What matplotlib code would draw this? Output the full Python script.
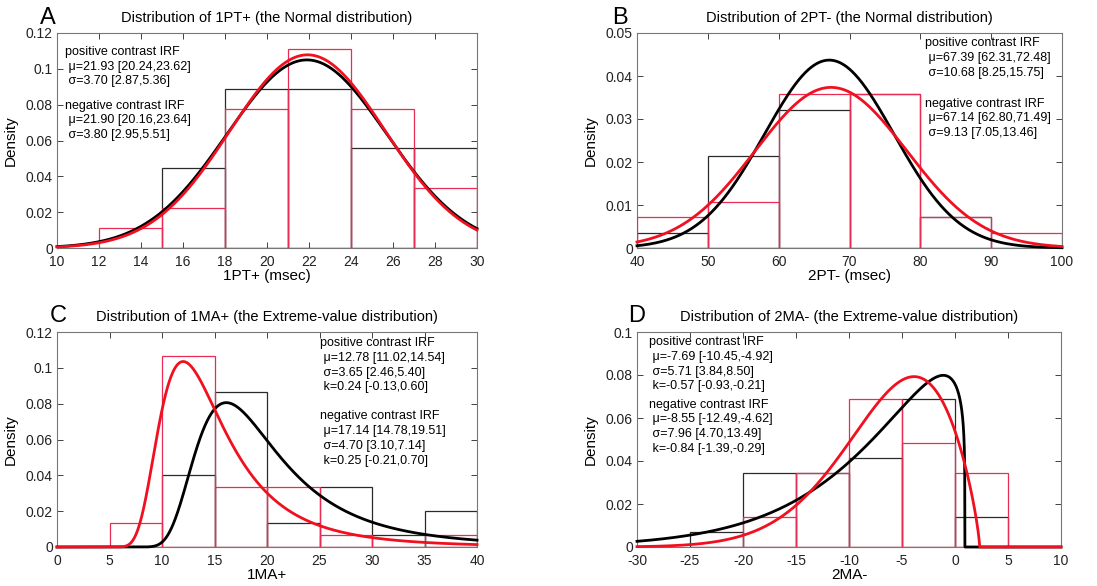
import numpy as np
import matplotlib
matplotlib.use("Agg")
import matplotlib.pyplot as plt

plt.rcParams['font.family'] = ['Liberation Sans', 'DejaVu Sans']

# ---------------- data ----------------
# Panel A: 1PT+ (Normal)
a_edges = [12, 15, 18, 21, 24, 27, 30]
a_neg_hist = [0.0, 0.0444, 0.0889, 0.0889, 0.0556, 0.0556]   # black
a_pos_hist = [0.0111, 0.0222, 0.0778, 0.1111, 0.0778, 0.0333]  # red
a_pos_params = (21.93, 3.70)
a_neg_params = (21.90, 3.80)

# Panel B: 2PT- (Normal)
b_edges = [40, 50, 60, 70, 80, 90, 100]
b_neg_hist = [0.0036, 0.0214, 0.0321, 0.0357, 0.0071, 0.0]
b_pos_hist = [0.0071, 0.0107, 0.0357, 0.0357, 0.0071, 0.0036]
b_pos_params = (67.39, 10.68)
b_neg_params = (67.14, 9.13)

# Panel C: 1MA+ (GEV: mu, sigma, k)
c_edges = [5, 10, 15, 20, 25, 30, 35, 40]
c_neg_hist = [0.0, 0.0400, 0.0867, 0.0133, 0.0333, 0.0067, 0.0200]
c_pos_hist = [0.0133, 0.1067, 0.0333, 0.0333, 0.0067, 0.0, 0.0067]
c_pos_params = (12.78, 3.65, 0.24)
c_neg_params = (17.14, 4.70, 0.25)

# Panel D: 2MA- (GEV: mu, sigma, k)
d_edges = [-25, -20, -15, -10, -5, 0, 5]
d_neg_hist = [0.0069, 0.0345, 0.0345, 0.0414, 0.0690, 0.0138]
d_pos_hist = [0.0, 0.0138, 0.0345, 0.0690, 0.0483, 0.0345]
d_pos_params = (-7.69, 5.71, -0.57)
d_neg_params = (-8.55, 7.96, -0.84)

titles = ["Distribution of 1PT+ (the Normal distribution)",
          "Distribution of 2PT- (the Normal distribution)",
          "Distribution of 1MA+ (the Extreme-value distribution)",
          "Distribution of 2MA- (the Extreme-value distribution)"]
xlabels = ["1PT+ (msec)", "2PT- (msec)", "1MA+", "2MA-"]
letters = ["A", "B", "C", "D"]

a_text = ("positive contrast IRF\n \u03bc=21.93 [20.24,23.62]\n \u03c3=3.70 [2.87,5.36]",
          "negative contrast IRF\n \u03bc=21.90 [20.16,23.64]\n \u03c3=3.80 [2.95,5.51]")
b_text = ("positive contrast IRF\n \u03bc=67.39 [62.31,72.48]\n \u03c3=10.68 [8.25,15.75]",
          "negative contrast IRF\n \u03bc=67.14 [62.80,71.49]\n \u03c3=9.13 [7.05,13.46]")
c_text = ("positive contrast IRF\n \u03bc=12.78 [11.02,14.54]\n \u03c3=3.65 [2.46,5.40]\n k=0.24 [-0.13,0.60]",
          "negative contrast IRF\n \u03bc=17.14 [14.78,19.51]\n \u03c3=4.70 [3.10,7.14]\n k=0.25 [-0.21,0.70]")
d_text = ("positive contrast IRF\n \u03bc=-7.69 [-10.45,-4.92]\n \u03c3=5.71 [3.84,8.50]\n k=-0.57 [-0.93,-0.21]",
          "negative contrast IRF\n \u03bc=-8.55 [-12.49,-4.62]\n \u03c3=7.96 [4.70,13.49]\n k=-0.84 [-1.39,-0.29]")


def normpdf(x, mu, s):
    return np.exp(-0.5 * ((x - mu) / s) ** 2) / (s * np.sqrt(2 * np.pi))


def gevpdf(x, mu, s, k):
    z = (x - mu) / s
    y = 1 + k * z
    out = np.zeros_like(x)
    ok = y > 0
    t = y[ok] ** (-1.0 / k)
    out[ok] = (1.0 / s) * np.exp(-t) * y[ok] ** (-1 - 1.0 / k)
    return out


RED_BAR = '#ea2c55'
RED_LINE = '#f01020'
BLACK_BAR = '#2a2a2a'

W, H = 1097, 586
fig = plt.figure(figsize=(W / 100, H / 100), dpi=100)
fig.patch.set_facecolor('white')


def px_axes(l, t, r, b):
    return fig.add_axes([l / W, 1 - b / H, (r - l) / W, (b - t) / H])


boxes = [(57, 33, 477, 248), (637, 33, 1062, 248),
         (57, 332, 477, 547), (637, 332, 1061, 547)]

panels = [
    dict(edges=a_edges, neg=a_neg_hist, pos=a_pos_hist, kind='norm',
         pp=a_pos_params, np_=a_neg_params, xlim=(10, 30), ylim=(0, 0.12),
         xt=np.arange(10, 31, 2), yt=[0, 0.02, 0.04, 0.06, 0.08, 0.1, 0.12],
         text=a_text, tpos=[(0.02, 0.94), (0.02, 0.69)]),
    dict(edges=b_edges, neg=b_neg_hist, pos=b_pos_hist, kind='norm',
         pp=b_pos_params, np_=b_neg_params, xlim=(40, 100), ylim=(0, 0.05),
         xt=np.arange(40, 101, 10), yt=[0, 0.01, 0.02, 0.03, 0.04, 0.05],
         text=b_text, tpos=[(0.678, 0.98), (0.678, 0.70)]),
    dict(edges=c_edges, neg=c_neg_hist, pos=c_pos_hist, kind='gev',
         pp=c_pos_params, np_=c_neg_params, xlim=(0, 40), ylim=(0, 0.12),
         xt=np.arange(0, 41, 5), yt=[0, 0.02, 0.04, 0.06, 0.08, 0.1, 0.12],
         text=c_text, tpos=[(0.625, 0.975), (0.625, 0.635)]),
    dict(edges=d_edges, neg=d_neg_hist, pos=d_pos_hist, kind='gev',
         pp=d_pos_params, np_=d_neg_params, xlim=(-30, 10), ylim=(0, 0.1),
         xt=np.arange(-30, 11, 5), yt=[0, 0.02, 0.04, 0.06, 0.08, 0.1],
         text=d_text, tpos=[(0.028, 0.98), (0.028, 0.69)]),
]


def fmt(v):
    if v == 0:
        return '0'
    s = ('%.2f' % v).rstrip('0').rstrip('.')
    return s


for i, (p, box) in enumerate(zip(panels, boxes)):
    ax = px_axes(*box)
    edges = np.array(p['edges'], dtype=float)
    widths = np.diff(edges)
    ax.bar(edges[:-1], p['neg'], width=widths, align='edge', fill=False,
           edgecolor=BLACK_BAR, linewidth=0.9, zorder=2)
    ax.bar(edges[:-1], p['pos'], width=widths, align='edge', fill=False,
           edgecolor=RED_BAR, linewidth=0.9, zorder=3)
    x = np.linspace(p['xlim'][0], p['xlim'][1], 2000)
    if p['kind'] == 'norm':
        yn = normpdf(x, *p['np_'])
        yp = normpdf(x, *p['pp'])
    else:
        yn = gevpdf(x, *p['np_'])
        yp = gevpdf(x, *p['pp'])
    ax.plot(x, yn, color='black', linewidth=2.0, zorder=4, clip_on=False)
    ax.plot(x, yp, color=RED_LINE, linewidth=2.0, zorder=5, clip_on=False)

    ax.set_xlim(*p['xlim'])
    ax.set_ylim(*p['ylim'])
    ax.set_xticks(p['xt'])
    ax.set_xticklabels([str(int(v)) for v in p['xt']])
    ax.set_yticks(p['yt'])
    ax.set_yticklabels([fmt(v) for v in p['yt']])
    ax.tick_params(direction='in', top=True, right=True, length=4,
                   width=0.6, labelsize=10, colors='#222222', pad=3)
    ax.tick_params(axis='x', pad=5)
    for sp in ax.spines.values():
        sp.set_color('#777777')
        sp.set_linewidth(0.8)
    ax.set_xlabel(xlabels[i], fontsize=11, labelpad=0)
    ax.set_ylabel('Density', fontsize=11, labelpad=6)
    ax.set_title(titles[i], fontsize=10.5, pad=8)

    for txt, (tx, ty) in zip(p['text'], p['tpos']):
        ax.text(tx, ty, txt, transform=ax.transAxes, fontsize=9,
                va='top', ha='left', linespacing=1.3, zorder=6)

letter_pos = [(40, 24), (612, 24), (50, 322), (628, 322)]
for L, (lx, ly) in zip(letters, letter_pos):
    fig.text(lx / W, 1 - ly / H, L, fontsize=17, ha='left', va='baseline')

fig.savefig('out.png', dpi=100, facecolor='white')
